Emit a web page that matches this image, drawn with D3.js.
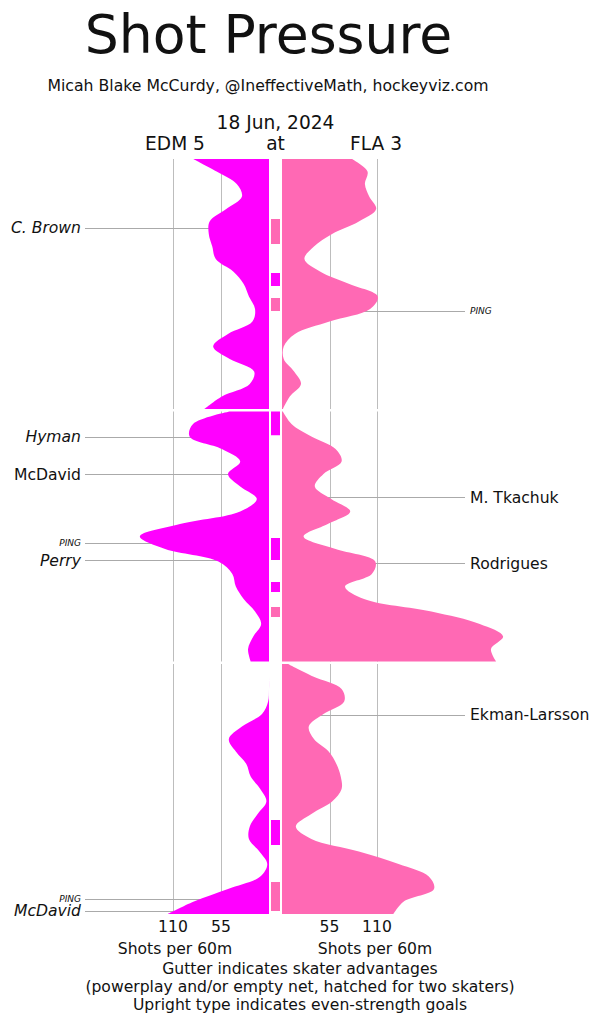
<!DOCTYPE html>
<html><head><meta charset="utf-8">
<script src="https://cdn.jsdelivr.net/npm/d3@7"></script>
<style>body{margin:0;background:#fff}svg{display:block}text{font-family:"DejaVu Sans",sans-serif;fill:#111}</style>
</head><body><svg id="c" width="600" height="1024"></svg>
<script>
// ---- data (shots per 60 minutes, sampled each minute of each period) ----
const edmP1 = [87,60,37,31,49,68,69,65,61,41,29,23,16,19,47,64,45,17,22,54,74];
const edmP2 = [45,87,91,54,33,47,33,14,33,102,148,119,58,42,38,29,16,9,18,24,21];
const edmP3 = [0,0,0,1,8,31,46,38,26,21,10,3,13,22,23,11,2,10,47,86,116];
const flaP1 = [81,99,96,101,109,89,58,37,26,44,78,111,102,55,15,2,2,14,22,9,1];
const flaP2 = [1,11,34,62,69,48,38,57,79,53,25,62,108,104,73,95,173,229,256,242,248];
const flaP3 = [7,36,69,72,48,31,37,54,63,68,69,58,34,16,34,89,135,170,176,141,129];
const tickValues = [55, 110];
const tickLabels = ["55", "110"];
// goals / posts: [team, label, game minute, italic, small]
const goalTeam   = ["EDM","EDM","EDM","EDM","EDM","EDM","EDM","FLA","FLA","FLA","FLA"];
const goalName   = ["C. Brown","Hyman","McDavid","PING","Perry","PING","McDavid","PING","M. Tkachuk","Rodrigues","Ekman-Larsson"];
const goalMinute = [5.48,22.0,25.02,30.48,31.9,58.82,59.74,12.12,26.86,32.14,44.08];
const goalItalic = [true,true,false,true,true,true,true,true,false,false,false];
const goalSmall  = [false,false,false,true,false,true,false,true,false,false,false];
// gutter advantage bars: [team colour, start minute, end minute]
const gutTeam  = ["FLA","EDM","FLA","EDM","EDM","EDM","FLA","EDM","FLA"];
const gutStart = [4.8,9.12,11.12,20.0,30.12,33.64,35.64,52.48,57.44];
const gutEnd   = [6.8,10.16,12.16,21.9,31.88,34.44,36.44,54.48,59.76];

const colors = {EDM:"#ff00ff", FLA:"#ff69b4"};
const svg = d3.select("#c");

const periodTops = [159, 411.5, 664], periodH = 250;
const yP = periodTops.map(t => d3.scaleLinear().domain([0,20]).range([t, t+periodH]));
const yGame = m => { const p = Math.min(2, Math.floor(m/20)); return yP[p](m - 20*p); };
const xL = d3.scaleLinear().domain([0,110]).range([269,173]);
const xR = d3.scaleLinear().domain([0,110]).range([282,377]);

// gridlines per period
const grid = svg.append("g").attr("stroke","#bdbdbd").attr("stroke-width",1);
yP.forEach(ys => {
  tickValues.forEach(v => {
    [xL(v), xR(v)].forEach(x => grid.append("line")
      .attr("x1",Math.round(x)+0.5).attr("x2",Math.round(x)+0.5)
      .attr("y1",ys.range()[0]).attr("y2",ys.range()[1]));
  });
});

// leader lines (behind areas)
const lead = svg.append("g").attr("stroke","#aaaaaa").attr("stroke-width",1);
goalName.forEach((n,i) => {
  const y = Math.round(yGame(goalMinute[i]))+0.5;
  if (goalTeam[i]==="EDM") lead.append("line").attr("x1",85).attr("x2",xL(0)).attr("y1",y).attr("y2",y);
  else lead.append("line").attr("x1",xR(0)).attr("x2",465).attr("y1",y).attr("y2",y);
});

// areas
const series = {EDM:[edmP1,edmP2,edmP3], FLA:[flaP1,flaP2,flaP3]};
["EDM","FLA"].forEach(team => {
  const xs = team==="EDM" ? xL : xR;
  series[team].forEach((vals,p) => {
    const area = d3.area()
      .y((d,i) => yP[p](i))
      .x0(xs(0))
      .x1(d => xs(Math.max(0,d)))
      .curve(d3.curveCatmullRom.alpha(0.5));
    svg.append("path").attr("d", area(vals)).attr("fill", colors[team]);
  });
});

// gutter bars
gutTeam.forEach((t,i) => {
  const y0 = yGame(gutStart[i]), y1 = yGame(gutEnd[i]);
  svg.append("rect").attr("x",271).attr("width",9).attr("y",y0).attr("height",y1-y0).attr("fill",colors[t]);
});

// goal labels
goalName.forEach((n,i) => {
  const y = yGame(goalMinute[i]);
  const left = goalTeam[i]==="EDM";
  svg.append("text").text(n)
    .attr("x", left ? 81 : 470).attr("y", y).attr("dy","0.35em")
    .attr("text-anchor", left ? "end" : "start")
    .attr("font-size", goalSmall[i] ? 9 : 15.6)
    .attr("font-style", goalItalic[i] ? "italic" : "normal");
});

// axis tick labels
tickValues.forEach((v,i) => {
  svg.append("text").text(tickLabels[i]).attr("x",xL(v)).attr("y",932).attr("text-anchor","middle").attr("font-size",15.6);
  svg.append("text").text(tickLabels[i]).attr("x",xR(v)).attr("y",932).attr("text-anchor","middle").attr("font-size",15.6);
});
svg.append("text").text("Shots per 60m").attr("x",175).attr("y",954).attr("text-anchor","middle").attr("font-size",15.6);
svg.append("text").text("Shots per 60m").attr("x",375).attr("y",954).attr("text-anchor","middle").attr("font-size",15.6);
const notes = ["Gutter indicates skater advantages","(powerplay and/or empty net, hatched for two skaters)","Upright type indicates even-strength goals"];
[974,992,1010].forEach((y,i) => svg.append("text").text(notes[i]).attr("x",300).attr("y",y).attr("text-anchor","middle").attr("font-size",15.6));

// titles
svg.append("text").text("Shot Pressure").attr("x",268.5).attr("y",53).attr("text-anchor","middle").attr("font-size",53.6);
svg.append("text").text("Micah Blake McCurdy, @IneffectiveMath, hockeyviz.com").attr("x",268).attr("y",91).attr("text-anchor","middle").attr("font-size",15.7);
svg.append("text").text("18 Jun, 2024").attr("x",275.5).attr("y",129).attr("text-anchor","middle").attr("font-size",18.6);
svg.append("text").text("EDM 5").attr("x",175).attr("y",150).attr("text-anchor","middle").attr("font-size",18.6);
svg.append("text").text("at").attr("x",275.5).attr("y",150).attr("text-anchor","middle").attr("font-size",18.6);
svg.append("text").text("FLA 3").attr("x",376).attr("y",150).attr("text-anchor","middle").attr("font-size",18.6);
</script></body></html>
